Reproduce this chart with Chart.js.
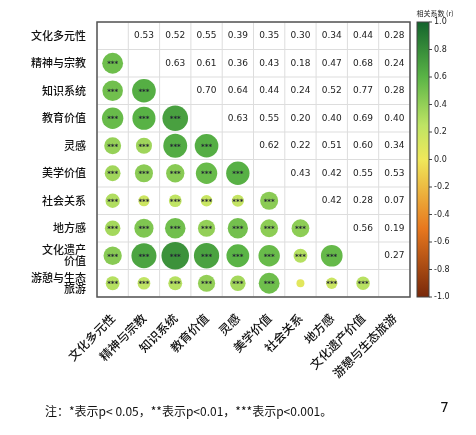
<!DOCTYPE html><html><head><meta charset="utf-8">
<script src="https://cdn.jsdelivr.net/npm/chart.js@4"></script>
<style>body{margin:0;background:#fff}#w{width:476px;height:435px}</style></head><body><div id="w"><canvas id="c"></canvas></div>
<script>
const categories=['文化多元性','精神与宗教','知识系统','教育价值','灵感','美学价值','社会关系','地方感',['文化遗产','价值'],['游憩与生态','旅游']];
const xLabels=['文化多元性','精神与宗教','知识系统','教育价值','灵感','美学价值','社会关系','地方感','文化遗产价值','游憩与生态旅游'];
const upper=[
[0.53,0.52,0.55,0.39,0.35,0.30,0.34,0.44,0.28],
[0.63,0.61,0.36,0.43,0.18,0.47,0.68,0.24],
[0.70,0.64,0.44,0.24,0.52,0.77,0.28],
[0.63,0.55,0.20,0.40,0.69,0.40],
[0.62,0.22,0.51,0.60,0.34],
[0.43,0.42,0.55,0.53],
[0.42,0.28,0.07],
[0.56,0.19],
[0.27]];
const cbTicks=[1.0,0.8,0.6,0.4,0.2,0,-0.2,-0.4,-0.6,-0.8,-1.0];
const stops=[[-1,[120,40,10]],[-0.5,[232,120,30]],[0,[240,232,90]],[0.25,[190,228,100]],[0.6,[90,180,70]],[1,[20,100,45]]];
function col(v){for(let i=1;i<stops.length;i++){if(v<=stops[i][0]){const a=stops[i-1],b=stops[i],t=(v-a[0])/(b[0]-a[0]);const c=a[1].map((x,k)=>Math.round(x+(b[1][k]-x)*t));return `rgb(${c})`;}}return 'rgb(20,100,45)';}
function r(i,j){return i<j?upper[i][j-i-1]:upper[j][i-j-1];}
const pts=[];
for(let i=0;i<10;i++)for(let j=0;j<i;j++){const v=r(i,j);pts.push({x:j,y:i,v:v,r:3+14*v});}
const fontCJK='"Noto Sans CJK SC"';
const overlay={id:'ov',beforeDatasetsDraw(ch){const{ctx,chartArea:a,scales:{x,y}}=ch;ctx.save();ctx.strokeStyle='#ddd';ctx.lineWidth=1;
for(let k=0;k<=10;k++){const px=x.getPixelForValue(k-0.5),py=y.getPixelForValue(k-0.5);ctx.beginPath();ctx.moveTo(px,a.top);ctx.lineTo(px,a.bottom);ctx.stroke();ctx.beginPath();ctx.moveTo(a.left,py);ctx.lineTo(a.right,py);ctx.stroke();}
ctx.strokeStyle='#555';ctx.lineWidth=1.5;ctx.strokeRect(a.left,a.top,a.right-a.left,a.bottom-a.top);ctx.restore();},
afterDatasetsDraw(ch){const{ctx,chartArea:a,scales:{x,y}}=ch;ctx.save();ctx.textAlign='center';ctx.textBaseline='middle';
ctx.font='9px "DejaVu Sans"';ctx.fillStyle='#222';
for(let i=0;i<9;i++)for(let j=i+1;j<10;j++)ctx.fillText(r(i,j).toFixed(2),x.getPixelForValue(j),y.getPixelForValue(i));
ctx.font='bold 7px "DejaVu Sans"';ctx.fillStyle='#223';
pts.forEach(p=>{if(p.v>0.1)ctx.fillText('***',x.getPixelForValue(p.x),y.getPixelForValue(p.y)+1);});
const cx=a.right+7,cw=12,ct=a.top,cb=a.bottom;const g=ctx.createLinearGradient(0,ct,0,cb);
stops.forEach(s=>g.addColorStop((1-s[0])/2,col(s[0])));ctx.fillStyle=g;ctx.fillRect(cx,ct,cw,cb-ct);
ctx.strokeStyle='#444';ctx.lineWidth=1;ctx.strokeRect(cx,ct,cw,cb-ct);
ctx.font='8px "DejaVu Sans"';ctx.textAlign='left';ctx.fillStyle='#222';
cbTicks.forEach(t=>{const py=ct+(1-t)/2*(cb-ct);ctx.beginPath();ctx.moveTo(cx+cw,py);ctx.lineTo(cx+cw+3,py);ctx.stroke();ctx.fillText(t.toFixed(1),cx+cw+5,py);});
ctx.font='7px '+fontCJK;ctx.textAlign='center';ctx.fillText('相关系数 (r)',cx+18,ct-9);
ctx.font='12px '+fontCJK;ctx.textAlign='left';ctx.fillStyle='#111';
ctx.fillText('注：*表示p< 0.05，**表示p<0.01，***表示p<0.001。',45,411);
ctx.font='14px "DejaVu Sans"';ctx.fillText('7',440,408);
ctx.restore();}};
new Chart(document.getElementById('c'),{type:'bubble',data:{datasets:[{data:pts,backgroundColor:pts.map(p=>col(p.v)),borderWidth:0}]},
options:{responsive:true,maintainAspectRatio:false,animation:false,layout:{padding:{top:22,right:66,left:2,bottom:0}},
plugins:{legend:{display:false},tooltip:{enabled:false}},
scales:{x:{type:'linear',min:-0.5,max:9.5,afterBuildTicks(s){s.ticks=[0,1,2,3,4,5,6,7,8,9].map(v=>({value:v}));},
afterFit(s){s.height=138;},grid:{display:false},border:{display:false},
ticks:{autoSkip:false,minRotation:45,maxRotation:45,padding:6,color:'#111',font:{family:fontCJK,size:12,weight:'500'},callback:(v)=>xLabels[v]}},
y:{type:'linear',reverse:true,min:-0.5,max:9.5,afterBuildTicks(s){s.ticks=[0,1,2,3,4,5,6,7,8,9].map(v=>({value:v}));},
afterFit(s){s.width=95;},grid:{display:false},border:{display:false},
ticks:{autoSkip:false,color:'#111',font:{family:fontCJK,size:11,weight:'500',lineHeight:1.0},callback:(v)=>categories[v]}}}},plugins:[overlay]});
</script></body></html>
